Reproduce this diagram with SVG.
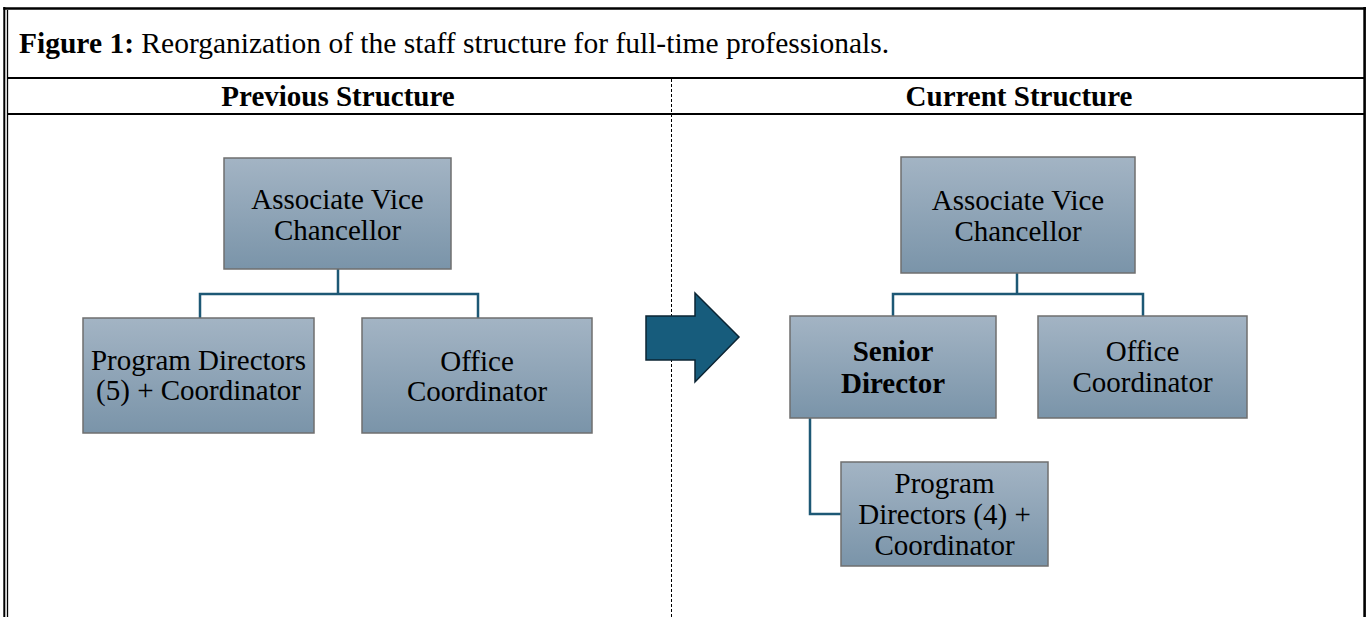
<svg xmlns="http://www.w3.org/2000/svg" width="1366" height="617" viewBox="0 0 1366 617">
  <defs>
    <linearGradient id="boxFill" x1="0" y1="0" x2="0" y2="1">
      <stop offset="0" stop-color="#a3b4c4"/>
      <stop offset="1" stop-color="#7a94a9"/>
    </linearGradient>
  </defs>
  <style>
    .rule { stroke: #000; fill: none; }
    .box { fill: url(#boxFill); stroke: #6f6f6f; stroke-width: 1.5; }
    .lbl { font-family: "Liberation Serif", "Times New Roman", serif; font-size: 29px; fill: #000; text-anchor: middle; }
    .bold { font-weight: bold; }
    .link { stroke: #1d5875; stroke-width: 2.5; fill: none; }
    .cap { font-family: "Liberation Serif", "Times New Roman", serif; font-size: 29.5px; fill: #000; }
  </style>
  <rect x="0" y="0" width="1366" height="617" fill="#fff"/>

  <!-- table frame -->
  <g id="frame">
    <line class="rule" x1="4.3" y1="7" x2="4.3" y2="617" stroke-width="2"/>
    <line class="rule" x1="7.5" y1="10" x2="7.5" y2="617" stroke-width="1.3"/>
    <line class="rule" x1="3.3" y1="8.5" x2="1366" y2="8.5" stroke-width="2.6"/>
    <line class="rule" x1="1364.6" y1="7" x2="1364.6" y2="617" stroke-width="2.6"/>
    <line class="rule" x1="7" y1="78" x2="1364" y2="78" stroke-width="2"/>
    <line class="rule" x1="7" y1="114" x2="1364" y2="114" stroke-width="2"/>
    <line class="rule" x1="671.5" y1="79" x2="671.5" y2="617" stroke-width="1" stroke-dasharray="3 2"/>
  </g>

  <!-- caption and column headers -->
  <g id="caption">
    <text class="cap" x="19" y="53"><tspan font-weight="bold">Figure 1:</tspan> Reorganization of the staff structure for full-time professionals.</text>
  </g>
  <g id="headers">
    <text class="lbl bold" x="338" y="106">Previous Structure</text>
    <text class="lbl bold" x="1019" y="106">Current Structure</text>
  </g>

  <!-- connectors -->
  <g id="connectors">
    <path class="link" d="M338,269 V294 M200,318 V294 H478 V318"/>
    <path class="link" d="M1017,273 V294 M893,316 V294 H1143 V316"/>
    <path class="link" d="M810,418 V514 H841"/>
  </g>

  <!-- transition arrow -->
  <g id="arrow">
    <polygon points="646,316 695,316 695,293 739,337 695,382 695,360 646,360" fill="#175c7c" stroke="#0b2433" stroke-width="1.5" stroke-linejoin="miter"/>
  </g>

  <!-- previous structure -->
  <g id="prev-avc">
    <rect class="box" x="224" y="158" width="227" height="111"/>
    <text class="lbl" x="337.5" y="209">Associate Vice</text>
    <text class="lbl" x="337.5" y="240">Chancellor</text>
  </g>
  <g id="prev-program-directors">
    <rect class="box" x="83" y="318" width="231" height="115"/>
    <text class="lbl" x="198.5" y="370">Program Directors</text>
    <text class="lbl" x="198.5" y="400">(5) + Coordinator</text>
  </g>
  <g id="prev-office-coordinator">
    <rect class="box" x="362" y="318" width="230" height="115"/>
    <text class="lbl" x="477" y="371">Office</text>
    <text class="lbl" x="477" y="401">Coordinator</text>
  </g>

  <!-- current structure -->
  <g id="curr-avc">
    <rect class="box" x="901" y="157" width="234" height="116"/>
    <text class="lbl" x="1018" y="210">Associate Vice</text>
    <text class="lbl" x="1018" y="241">Chancellor</text>
  </g>
  <g id="curr-senior-director">
    <rect class="box" x="790" y="316" width="206" height="102"/>
    <text class="lbl bold" x="893" y="361" font-size="32">Senior</text>
    <text class="lbl bold" x="893" y="393" font-size="32">Director</text>
  </g>
  <g id="curr-office-coordinator">
    <rect class="box" x="1038" y="316" width="209" height="102"/>
    <text class="lbl" x="1142.5" y="361">Office</text>
    <text class="lbl" x="1142.5" y="392">Coordinator</text>
  </g>
  <g id="curr-program-directors">
    <rect class="box" x="841" y="462" width="207" height="104"/>
    <text class="lbl" x="944.5" y="493">Program</text>
    <text class="lbl" x="944.5" y="524">Directors (4) +</text>
    <text class="lbl" x="944.5" y="555">Coordinator</text>
  </g>
</svg>
